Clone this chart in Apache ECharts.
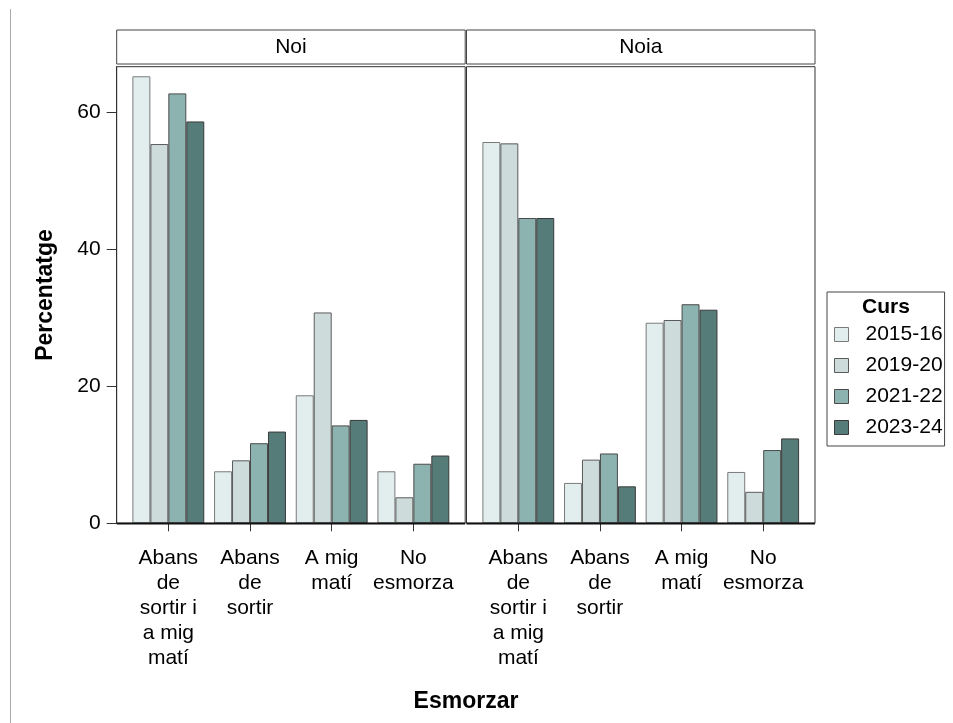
<!DOCTYPE html>
<html>
<head>
<meta charset="utf-8">
<script src="https://cdn.jsdelivr.net/npm/echarts@6/dist/echarts.min.js"></script>
<style>
html,body{margin:0;padding:0;background:#fff;}
#chart{width:953px;height:723px;}
</style>
</head>
<body>
<div id="chart"></div>
<script>
var categories = ['Abans\nde\nsortir i\na mig\nmatí', 'Abans\nde\nsortir', 'A mig\nmatí', 'No\nesmorza'];
var panels = ['Noi', 'Noia'];
var courses = ['2015-16', '2019-20', '2021-22', '2023-24'];
var noi_2015 = [65.3, 7.6, 18.7, 7.6];
var noi_2019 = [55.4, 9.2, 30.8, 3.8];
var noi_2021 = [62.8, 11.7, 14.3, 8.7];
var noi_2023 = [58.7, 13.4, 15.1, 9.9];
var noia_2015 = [55.7, 5.9, 29.3, 7.5];
var noia_2019 = [55.5, 9.3, 29.7, 4.6];
var noia_2021 = [44.6, 10.2, 32.0, 10.7];
var noia_2023 = [44.6, 5.4, 31.2, 12.4];
var yTicks = [0, 20, 40, 60];
var colors = ['#e2eeee', '#cddcdb', '#8db3b0', '#567c7a'];
var borders = ['#7a7a7a', '#5a5a5a', '#4a4a4a', '#3a3a3a'];

var FONT = '"Liberation Sans", Arial, sans-serif';
var chart = echarts.init(document.getElementById('chart'));

var panelData = [[noi_2015, noi_2019, noi_2021, noi_2023], [noia_2015, noia_2019, noia_2021, noia_2023]];
var gridDefs = [{left: 127.5, width: 326.7}, {left: 477.5, width: 326.5}];
var frames = [{x: 116.7, w: 348.5}, {x: 466.5, w: 348.5}];
var gridTop = 66.7, gridBottom = 199.7;

var grids = [], xAxes = [], yAxes = [], series = [];
gridDefs.forEach(function (g, i) {
  grids.push({left: g.left, width: g.width, top: gridTop, bottom: gridBottom, containLabel: false});
  xAxes.push({
    type: 'category', gridIndex: i, data: categories, offset: 4,
    axisLine: {show: false},
    axisTick: {show: true, alignWithLabel: true, length: 8, lineStyle: {color: '#333'}},
    axisLabel: {fontFamily: FONT, fontSize: 21, lineHeight: 25, color: '#000', margin: 18, interval: 0}
  });
  yAxes.push({
    type: 'value', gridIndex: i, min: 0, max: 66.7, interval: 20,
    offset: i === 0 ? 10.8 : 0,
    show: i === 0,
    name: i === 0 ? 'Percentatge' : '',
    nameLocation: 'middle', nameGap: 60,
    nameTextStyle: {fontFamily: FONT, fontSize: 23, fontWeight: 'bold', color: '#000'},
    splitLine: {show: false},
    axisLine: {show: true, lineStyle: {color: '#222'}},
    axisTick: {show: true, length: 10, customValues: yTicks, lineStyle: {color: '#333'}},
    axisLabel: {fontFamily: FONT, fontSize: 21, color: '#000', margin: 16, customValues: yTicks}
  });
  panelData[i].forEach(function (vals, s) {
    series.push({
      type: 'bar', name: courses[s], xAxisIndex: i, yAxisIndex: i, data: vals,
      barGap: '0%', barCategoryGap: '12%',
      itemStyle: {color: colors[s], borderColor: borders[s], borderWidth: 1},
      emphasis: {disabled: true}
    });
  });
});

var graphics = [
  {type: 'line', shape: {x1: 10.5, y1: 9, x2: 10.5, y2: 723}, style: {stroke: '#aaa', lineWidth: 1}, silent: true},
  {type: 'text', style: {text: 'Esmorzar', x: 466, y: 702, align: 'center', verticalAlign: 'middle',
    font: 'bold 23px ' + FONT, fill: '#000'}},
  {type: 'text', style: {text: 'Curs', x: 886, y: 307, align: 'center', verticalAlign: 'middle',
    font: 'bold 21px ' + FONT, fill: '#000'}}
];
frames.forEach(function (f, i) {
  graphics.push({type: 'rect', shape: {x: f.x, y: 30, width: f.w, height: 34}, style: {fill: '#fff', stroke: '#444', lineWidth: 1}, silent: true});
  graphics.push({type: 'text', style: {text: panels[i], x: f.x + f.w / 2, y: 47.5, align: 'center', verticalAlign: 'middle',
    font: '21px ' + FONT, fill: '#000'}});
  graphics.push({type: 'rect', shape: {x: f.x, y: 66.7, width: f.w, height: 456.6}, style: {fill: 'none', stroke: '#333', lineWidth: 1}, silent: true, z: 10});
  graphics.push({type: 'line', shape: {x1: f.x, y1: 523.5, x2: f.x + f.w, y2: 523.5}, style: {stroke: '#111', lineWidth: 2}, silent: true, z: 10});
});

chart.setOption({
  animation: false,
  color: colors,
  grid: grids,
  xAxis: xAxes,
  yAxis: yAxes,
  legend: {
    data: courses, orient: 'vertical', left: 827, top: 292,
    padding: [32, 2, 8, 7], itemGap: 10, itemWidth: 14, itemHeight: 14,
    borderColor: '#444', borderWidth: 1, icon: 'rect',
    textStyle: {fontFamily: FONT, fontSize: 21, color: '#000', padding: [0, 0, 0, 12]},
    itemStyle: {borderWidth: 1}
  },
  graphic: graphics,
  series: series
});
</script>
</body>
</html>
